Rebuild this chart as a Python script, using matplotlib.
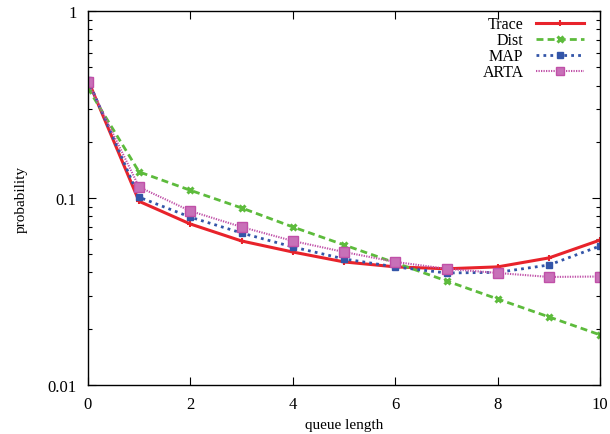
import matplotlib

matplotlib.use("Agg")
import matplotlib.pyplot as plt
from matplotlib.ticker import FixedLocator, LogLocator, NullFormatter

plt.rcParams["font.family"] = ["Liberation Serif", "DejaVu Serif"]

queue_length = [0, 1, 2, 3, 4, 5, 6, 7, 8, 9, 10]
trace = [0.43, 0.096, 0.0726, 0.0589, 0.0514, 0.0455, 0.0428, 0.0418, 0.0428, 0.0478, 0.0596]
dist = [0.388, 0.138, 0.110, 0.0885, 0.070, 0.0561, 0.045, 0.036, 0.0288, 0.0231, 0.0185]
map_fit = [0.43, 0.101, 0.079, 0.065, 0.0547, 0.0472, 0.0428, 0.0397, 0.040, 0.0438, 0.0554]
arta = [0.417, 0.1145, 0.0852, 0.070, 0.0589, 0.0514, 0.0455, 0.0418, 0.0397, 0.0378, 0.038]

fig = plt.figure(figsize=(6.1, 4.35), dpi=100)
ax = fig.add_axes([0.144, 0.113, 0.84, 0.859])

ax.plot(queue_length, trace, color="#e8232b", linewidth=2.2, linestyle="-",
        marker="+", markersize=5, markeredgewidth=1.5, label="Trace")
ax.plot(queue_length, dist, color="#5dbb3c", linewidth=2.0, linestyle=(0, (2.5, 1.5)),
        marker="x", markersize=4.5, markeredgewidth=2.2, label="Dist")
ax.plot(queue_length, map_fit, color="#3355a8", linewidth=2.0, linestyle=(0, (1, 1.5)),
        marker="s", markersize=4.5, label="MAP")
ax.plot(queue_length, arta, color="#c050a8", linewidth=1.5, linestyle=(0, (0.6, 0.6)),
        marker="s", markersize=6.5, markerfacecolor="#c870b8", label="ARTA")

ax.set_yscale("log")
ax.set_xlim(0, 10)
ax.set_ylim(0.01, 1)
ax.xaxis.set_major_locator(FixedLocator([0, 2, 4, 6, 8, 10]))
ax.set_yticks([0.01, 0.1, 1])
ax.set_yticklabels(["0.01", "0.1", "1"])
ax.yaxis.set_minor_locator(LogLocator(base=10, subs=range(2, 10)))
ax.yaxis.set_minor_formatter(NullFormatter())

ax.tick_params(which="both", direction="in", top=True, right=True, labelsize=12, pad=8)
ax.tick_params(which="major", length=6, width=0.8)
ax.tick_params(which="minor", length=3, width=0.8)
for spine in ax.spines.values():
    spine.set_linewidth(1.0)

ax.set_xlabel("queue length", fontsize=11)
ax.set_ylabel("probability", fontsize=11, labelpad=14)

ax.legend(loc="upper right", bbox_to_anchor=(0.975, 0.995), frameon=False,
          markerfirst=False, fontsize=11.5, handlelength=3.0, handletextpad=0.8,
          labelspacing=0.0, borderaxespad=0.0, borderpad=0.2, markerscale=0.9)

fig.savefig("out.png")
plt.close(fig)
